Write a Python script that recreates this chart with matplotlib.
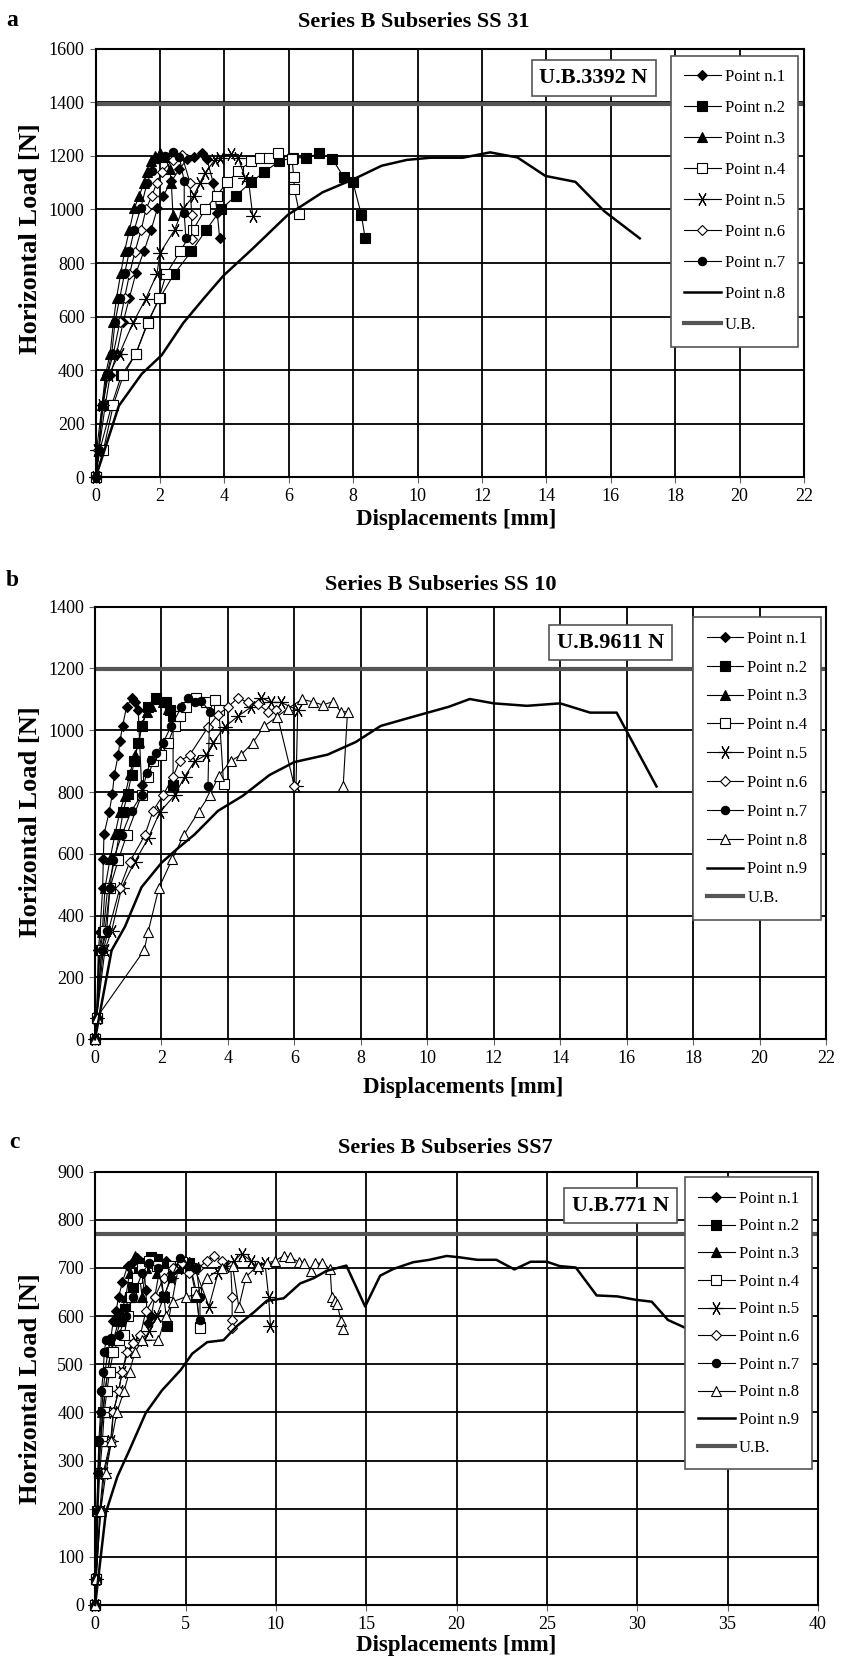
import numpy as np
import matplotlib
matplotlib.use("Agg")
import matplotlib.pyplot as plt

plt.rcParams["font.family"] = "serif"
plt.rcParams["font.serif"] = ["Liberation Serif", "DejaVu Serif"]

W, H = 843, 1662

# ---------------- panel a : SS 31 ----------------
a1_x = [0, 0.1, 0.3, 0.45, 0.65, 0.85, 1.05, 1.25, 1.5, 1.72, 1.92, 2.1, 2.35, 2.6, 2.85, 3.05, 3.3, 3.45, 3.65, 3.78, 3.85]
a1_y = [0, 102, 271, 381, 462, 578, 671, 762, 845, 923, 1005, 1052, 1105, 1150, 1190, 1195, 1210, 1190, 1100, 985, 892]
a2_x = [0, 0.13, 0.5, 0.8, 1.25, 1.62, 2.0, 2.43, 2.97, 3.43, 3.89, 4.36, 4.83, 5.24, 5.7, 6.12, 6.54, 6.95, 7.34, 7.7, 7.99, 8.25, 8.37]
a2_y = [0, 102, 271, 381, 462, 581, 671, 758, 843, 923, 1000, 1052, 1102, 1140, 1180, 1193, 1193, 1209, 1190, 1122, 1102, 981, 892]
a3_x = [0, 0.1, 0.2, 0.3, 0.45, 0.55, 0.65, 0.78, 0.9, 1.05, 1.2, 1.35, 1.5, 1.6, 1.72, 1.85, 2.0, 2.15, 2.3, 2.35, 2.4]
a3_y = [0, 102, 271, 381, 462, 580, 671, 762, 845, 925, 1005, 1050, 1100, 1140, 1180, 1200, 1210, 1195, 1150, 1100, 980]
a4_x = [0, 0.24, 0.55, 0.86, 1.25, 1.62, 1.97, 2.19, 2.62, 3.02, 3.4, 3.76, 4.09, 4.43, 4.83, 5.11, 5.37, 5.66, 6.1, 6.15, 6.17, 6.33]
a4_y = [0, 102, 271, 381, 462, 575, 671, 758, 843, 923, 1000, 1052, 1102, 1143, 1180, 1193, 1193, 1209, 1190, 1122, 1078, 984]
a5_x = [0, 0.03, 0.2, 0.4, 0.74, 1.15, 1.55, 1.9, 2.0, 2.45, 2.7, 3.04, 3.24, 3.4, 3.71, 3.87, 4.2, 4.43, 4.64, 4.75, 4.88]
a5_y = [0, 102, 271, 381, 462, 575, 665, 758, 838, 923, 1000, 1050, 1099, 1137, 1186, 1193, 1207, 1193, 1118, 1105, 975]
a6_x = [0, 0.08, 0.24, 0.36, 0.55, 0.75, 0.9, 1.05, 1.22, 1.41, 1.56, 1.74, 1.9, 2.05, 2.41, 2.67, 2.93, 2.98, 2.98]
a6_y = [0, 102, 271, 381, 462, 580, 671, 758, 842, 922, 1000, 1050, 1099, 1140, 1186, 1205, 1099, 981, 888]
a7_x = [0, 0.1, 0.2, 0.35, 0.5, 0.6, 0.75, 0.9, 1.05, 1.2, 1.4, 1.6, 1.75, 1.95, 2.15, 2.4, 2.6, 2.75, 2.75, 2.8]
a7_y = [0, 102, 271, 384, 462, 580, 671, 762, 845, 925, 1005, 1100, 1145, 1190, 1200, 1215, 1195, 1105, 985, 895]
a8_x = [0, 0.72, 1.43, 2.05, 2.72, 3.38, 3.97, 4.88, 5.97, 7.05, 8.05, 8.88, 9.67, 10.4, 11.4, 12.25, 13.1, 13.97, 14.9, 15.8, 16.9]
a8_y = [0, 267, 386, 456, 576, 671, 753, 854, 980, 1064, 1115, 1163, 1185, 1193, 1193, 1213, 1194, 1125, 1103, 993, 892]
a_ub = 1392

# ---------------- panel b : SS 10 ----------------
b1_x = [0, 0.05, 0.1, 0.15, 0.23, 0.25, 0.27, 0.43, 0.52, 0.58, 0.7, 0.75, 0.83, 0.95, 1.1, 1.2, 1.3, 1.4]
b1_y = [0, 70, 288, 348, 489, 582, 663, 737, 793, 855, 921, 964, 1014, 1076, 1103, 1092, 1065, 823]
b2_x = [0, 0.05, 0.15, 0.25, 0.38, 0.6, 0.73, 0.85, 0.98, 1.1, 1.18, 1.3, 1.42, 1.6, 1.85, 2.13, 2.25, 2.35, 2.35]
b2_y = [0, 70, 288, 348, 489, 582, 663, 737, 793, 855, 900, 960, 1014, 1076, 1105, 1092, 1065, 1045, 823]
b3_x = [0, 0.05, 0.12, 0.22, 0.3, 0.45, 0.6, 0.75, 0.9, 1.05, 1.2, 1.33, 1.4, 1.55, 1.7, 1.9, 2.05, 2.2]
b3_y = [0, 70, 288, 348, 489, 582, 663, 737, 788, 859, 920, 962, 1016, 1060, 1080, 1100, 1090, 1070]
b4_x = [0, 0.05, 0.2, 0.3, 0.45, 0.7, 0.95, 1.4, 1.6, 1.75, 2.0, 2.2, 2.4, 2.55, 2.75, 3.05, 3.35, 3.6, 3.73, 3.87]
b4_y = [0, 70, 290, 350, 490, 580, 660, 790, 850, 900, 920, 960, 1015, 1045, 1075, 1105, 1090, 1098, 1065, 826]
b5_x = [0, 0.05, 0.3, 0.5, 0.8, 1.2, 1.6, 1.95, 2.4, 2.7, 3.0, 3.35, 3.55, 3.9, 4.3, 4.7, 5.0, 5.3, 5.6, 6.1, 6.05]
b5_y = [0, 70, 290, 350, 490, 575, 650, 735, 790, 850, 900, 920, 960, 1010, 1045, 1075, 1105, 1090, 1090, 1065, 820]
b6_x = [0, 0.05, 0.25, 0.4, 0.75, 1.05, 1.5, 1.75, 2.05, 2.35, 2.55, 2.85, 3.4, 3.7, 4.0, 4.3, 4.6, 4.9, 5.2, 5.45, 6.0]
b6_y = [0, 70, 290, 350, 490, 575, 660, 740, 790, 850, 900, 920, 1010, 1050, 1075, 1105, 1090, 1085, 1060, 1065, 820]
b7_x = [0, 0.05, 0.2, 0.35, 0.45, 0.55, 0.8, 1.1, 1.4, 1.55, 1.7, 1.85, 2.05, 2.3, 2.6, 2.8, 3.0, 3.2, 3.45, 3.4]
b7_y = [0, 70, 290, 350, 490, 580, 660, 740, 790, 860, 905, 925, 960, 1015, 1075, 1105, 1090, 1095, 1060, 820]
b8_x = [0, 0.05, 1.48, 1.6, 1.92, 2.32, 2.67, 3.12, 3.45, 3.73, 4.08, 4.4, 4.75, 5.1, 5.47, 5.8, 6.23, 6.55, 6.85, 7.15, 7.4, 7.6, 7.47]
b8_y = [0, 70, 288, 348, 489, 582, 660, 737, 791, 853, 900, 921, 960, 1014, 1043, 1070, 1100, 1092, 1082, 1092, 1060, 1060, 821]
b9_x = [0, 0.5, 0.9, 1.4, 2.0, 2.45, 3.0, 3.7, 4.45, 5.25, 6.0, 7.0, 7.85, 8.6, 9.55, 10.65, 11.28, 12.0, 13.0, 14.0, 14.9, 15.7, 16.9]
b9_y = [0, 288, 364, 492, 571, 614, 663, 739, 788, 855, 897, 921, 962, 1014, 1043, 1076, 1101, 1087, 1079, 1087, 1057, 1057, 818]
b_ub = 1197

# ---------------- panel c : SS7 ----------------
c1_x = [0, 0.05, 0.1, 0.15, 0.25, 0.35, 0.45, 0.55, 0.7, 0.85, 1.0, 1.15, 1.3, 1.5, 1.8, 2.1, 2.3, 2.5, 2.7, 2.8, 2.9, 3.1, 3.3, 3.6, 3.9, 4.3]
c1_y = [0, 55, 195, 275, 340, 400, 445, 485, 525, 550, 590, 610, 640, 670, 705, 712, 720, 715, 700, 655, 585, 600, 640, 705, 715, 705]
c2_x = [0, 0.05, 0.1, 0.2, 0.3, 0.45, 0.55, 0.7, 0.85, 1.1, 1.4, 1.65, 1.9, 2.1, 2.4, 2.7, 3.1, 3.4, 3.6, 3.8, 4.0, 4.6, 5.2, 5.6, 5.8]
c2_y = [0, 55, 195, 275, 340, 400, 445, 485, 525, 550, 590, 615, 640, 660, 690, 710, 722, 718, 700, 640, 580, 700, 710, 640, 578]
c3_x = [0, 0.05, 0.12, 0.2, 0.3, 0.4, 0.55, 0.7, 0.85, 1.0, 1.3, 1.5, 1.7, 1.9, 2.2, 2.4, 2.6, 2.8, 3.1, 3.4, 3.7, 4.0]
c3_y = [0, 55, 195, 275, 340, 400, 445, 485, 525, 550, 590, 615, 640, 690, 725, 700, 640, 700, 720, 690, 710, 700]
c4_x = [0, 0.05, 0.15, 0.25, 0.4, 0.5, 0.65, 0.8, 1.0, 1.3, 1.6, 1.8, 2.0, 2.3, 2.6, 3.0, 3.4, 3.8, 4.3, 4.8, 5.3, 5.6, 5.8]
c4_y = [0, 55, 195, 275, 340, 400, 445, 485, 525, 550, 560, 600, 640, 680, 700, 715, 705, 690, 705, 712, 700, 650, 575]
c5_x = [0, 0.05, 0.3, 0.5, 0.9, 1.0, 1.3, 1.5, 1.8, 2.2, 2.7, 3.0, 3.4, 3.8, 4.2, 4.6, 5.0, 5.5, 6.3, 6.8, 7.2, 7.7, 8.1, 8.6, 9.0, 9.4, 9.6, 9.7]
c5_y = [0, 55, 195, 275, 340, 400, 445, 485, 525, 550, 550, 570, 600, 640, 680, 700, 710, 700, 620, 690, 705, 715, 730, 715, 700, 710, 640, 580]
c6_x = [0, 0.05, 0.25, 0.45, 0.85, 1.0, 1.3, 1.5, 1.75, 2.1, 2.5, 2.8, 3.3, 3.8, 4.3, 4.8, 5.2, 5.7, 6.2, 6.6, 7.0, 7.5, 7.58, 7.58, 7.58]
c6_y = [0, 55, 195, 275, 340, 400, 445, 485, 525, 545, 560, 610, 640, 680, 700, 710, 690, 700, 715, 725, 715, 705, 640, 591, 575]
c7_x = [0, 0.05, 0.1, 0.15, 0.2, 0.3, 0.35, 0.45, 0.5, 0.6, 0.9, 1.3, 1.7, 2.1, 2.6, 3.0, 3.5, 3.8, 4.2, 4.7, 5.2, 5.6, 5.8, 5.8]
c7_y = [0, 55, 195, 275, 340, 400, 445, 485, 525, 550, 555, 560, 600, 640, 690, 710, 700, 640, 680, 720, 705, 700, 640, 591]
c8_x = [0, 0.05, 0.3, 0.6, 0.9, 1.2, 1.6, 1.9, 2.2, 2.6, 3.5, 3.9, 4.3, 5.0, 5.6, 6.2, 7.0, 7.6, 7.95, 8.35, 9.0, 9.5,
        9.94, 10.43, 10.8, 11.26, 11.57, 11.96, 12.18, 12.55, 13.0, 13.1, 13.28, 13.4, 13.6, 13.74]
c8_y = [0, 55, 195, 275, 340, 400, 445, 485, 525, 550, 550, 600, 630, 640, 645, 680, 700, 705, 619, 682, 705, 710,
        715, 725, 722, 713, 711, 693, 710, 710, 698, 639, 632, 625, 590, 574]
c9_x = [0, 0.59, 1.23, 1.9, 2.8, 3.7, 4.73, 5.37, 6.2, 7.1, 7.86, 8.78, 9.5, 10.43, 11.35, 12.1, 12.8, 13.9, 14.94, 15.77,
        16.5, 17.6, 18.5, 19.45, 20.2, 21.15, 22.2, 23.2, 24.1, 25.0, 25.7, 26.6, 27.75, 28.9, 29.9, 30.8, 31.7, 32.7]
c9_y = [0, 192, 267, 322, 399, 446, 488, 522, 546, 550, 580, 608, 632, 637, 668, 679, 694, 705, 620, 684,
        698, 712, 717, 725, 722, 717, 717, 697, 713, 713, 704, 701, 643, 641, 634, 630, 592, 575]
c_ub = 770

labels = ["Point n.%d" % i for i in range(1, 10)]

# marker styles for Point n.1 ... n.8 (the last series of a panel is a plain line)
STY = [
    dict(marker="D", ms=5.5, mfc="black"),
    dict(marker="s", ms=6.5, mfc="black"),
    dict(marker="^", ms=7, mfc="black"),
    dict(marker="s", ms=6.5, mfc="white"),
    dict(marker=(6, 2, 90), ms=10, mfc="black"),
    dict(marker="D", ms=5.5, mfc="white"),
    dict(marker="o", ms=6, mfc="black"),
    dict(marker="^", ms=7.5, mfc="white"),
]


def px(x, y):
    return x / W, 1 - y / H


def panel(rect, series, ub, xmax, xstep, ymax, ystep, leg_anchor, lab_space, ub_xy, ub_txt):
    ax = fig.add_axes(rect)
    n = len(series)
    for i, (x, y) in enumerate(series):
        if i == n - 1:
            ax.plot(x, y, color="black", lw=1.8, label=labels[i], clip_on=False, zorder=3)
        else:
            s = STY[i]
            ax.plot(x, y, color="black", lw=0.8, marker=s["marker"], ms=s["ms"],
                    mfc=s["mfc"], mec="black", mew=0.8, label=labels[i], clip_on=False, zorder=3)
    ax.axhline(ub, color="#555555", lw=3, label="U.B.", zorder=2)
    ax.set_xlim(0, xmax); ax.set_ylim(0, ymax)
    ax.set_xticks(np.arange(0, xmax + 0.1, xstep))
    ax.set_yticks(np.arange(0, ymax + 1, ystep))
    ax.grid(True, color="black", lw=1.3, zorder=0)
    ax.set_axisbelow(True)
    for sp in ax.spines.values():
        sp.set_linewidth(1.5); sp.set_color("black")
    ax.tick_params(direction="out", length=4, color="#666666", labelsize=13, pad=4)
    leg = ax.legend(loc="upper right", bbox_to_anchor=leg_anchor, borderaxespad=0,
                    fontsize=12, handlelength=2.2, handletextpad=0.25, labelspacing=lab_space,
                    borderpad=0.8, fancybox=False, framealpha=1, edgecolor="#555555")
    leg.get_frame().set_linewidth(1.2)
    leg.set_zorder(10)
    ax.text(ub_xy[0], ub_xy[1], ub_txt, transform=ax.transAxes, ha="center", va="center",
            fontsize=16, fontweight="bold", zorder=9,
            bbox=dict(boxstyle="square,pad=0.35", fc="white", ec="#555555", lw=1.2))
    return ax


fig = plt.figure(figsize=(W / 100, H / 100), dpi=100)

panel([0.1135, 0.7128, 0.8402, 0.2579],
      [(a1_x, a1_y), (a2_x, a2_y), (a3_x, a3_y), (a4_x, a4_y), (a5_x, a5_y),
       (a6_x, a6_y), (a7_x, a7_y), (a8_x, a8_y)],
      a_ub, 22, 2, 1600, 200, (0.992, 0.983), 0.9, (0.703, 0.932), "U.B.3392 N")
panel([0.1127, 0.3747, 0.8671, 0.2603],
      [(b1_x, b1_y), (b2_x, b2_y), (b3_x, b3_y), (b4_x, b4_y), (b5_x, b5_y),
       (b6_x, b6_y), (b7_x, b7_y), (b8_x, b8_y), (b9_x, b9_y)],
      b_ub, 22, 2, 1400, 200, (0.993, 0.975), 0.77, (0.705, 0.917), "U.B.9611 N")
panel([0.1129, 0.0343, 0.8574, 0.2607],
      [(c1_x, c1_y), (c2_x, c2_y), (c3_x, c3_y), (c4_x, c4_y), (c5_x, c5_y),
       (c6_x, c6_y), (c7_x, c7_y), (c8_x, c8_y), (c9_x, c9_y)],
      c_ub, 40, 5, 900, 100, (0.992, 0.987), 0.7, (0.727, 0.922), "U.B.771 N")

# titles, panel letters, axis labels
for (lx, ly), (tx, ty), t, letter in [((12, 20), (414, 22), "Series B Subseries SS 31", "a"),
                                      ((12, 580), (441, 585), "Series B Subseries SS 10", "b"),
                                      ((14, 1143), (445, 1148), "Series B Subseries SS7", "c")]:
    fig.text(*px(lx, ly), letter, fontsize=17, fontweight="bold", ha="center", va="center")
    fig.text(*px(tx, ty), t, fontsize=16, fontweight="bold", ha="center", va="center")

for (xx, xy), (yx, yy) in [((456, 520), (30, 239)), ((463, 1087), (30, 822)), ((456, 1645), (30, 1389))]:
    fig.text(*px(xx, xy), "Displacements [mm]", fontsize=16.5, fontweight="bold", ha="center", va="center")
    fig.text(*px(yx, yy), "Horizontal Load [N]", fontsize=19, fontweight="bold", ha="center", va="center",
             rotation=90)

fig.savefig("out.png", dpi=100)
